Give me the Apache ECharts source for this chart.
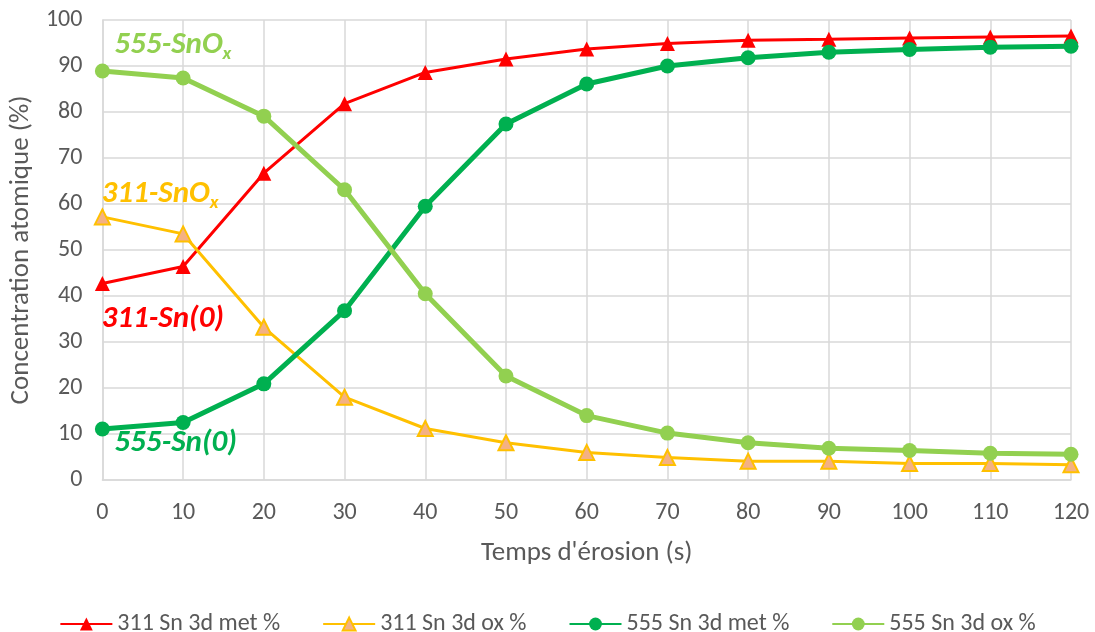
<!DOCTYPE html>
<html><head><meta charset="utf-8">
<script src="https://cdn.jsdelivr.net/npm/echarts@6/dist/echarts.min.js"></script>
<style>html,body{margin:0;padding:0;background:#fff}#c{width:1095px;height:632px}</style>
</head><body><div id="c"></div>
<script>
const times = [0,10,20,30,40,50,60,70,80,90,100,110,120];
const s311met = [42.7,46.4,66.7,81.8,88.6,91.5,93.7,94.9,95.6,95.8,96.1,96.3,96.5];
const s311ox  = [57.2,53.5,33.2,18.0,11.2,8.1,6.0,4.9,4.1,4.1,3.6,3.6,3.3];
const s555met = [11.1,12.5,20.9,36.8,59.5,77.4,86.1,90.0,91.8,93.0,93.6,94.1,94.3];
const s555ox  = [88.9,87.4,79.1,63.1,40.5,22.6,14.0,10.2,8.1,6.9,6.4,5.8,5.6];
const seriesNames = ['311 Sn 3d met %','311 Sn 3d ox %','555 Sn 3d met %','555 Sn 3d ox %'];
const yTicks = [0,10,20,30,40,50,60,70,80,90,100];
const annotations = [
  {text:'555-SnO', sub:'x', x:1.5, y:94.6, color:'#92D050'},
  {text:'311-SnO', sub:'x', x:-0.1, y:62.2, color:'#FFC000'},
  {text:'311-Sn(0)', sub:'', x:-0.1, y:35.0, color:'#FF0000'},
  {text:'555-Sn(0)', sub:'', x:1.5, y:7.9, color:'#00B050'}
];
const FONT = 'Carlito, Lato, "Open Sans", sans-serif';
const pairs = arr => times.map((t,i)=>[t,arr[i]]);
const chart = echarts.init(document.getElementById('c'), null, {renderer:'canvas'});
const grid = {left:101, right:24, top:20, bottom:152};
const opt = {
  animation:false,
  textStyle:{fontFamily:FONT},
  grid: grid,
  xAxis:{type:'value', min:0, max:120, interval:10,
    name:"Temps d'érosion (s)", nameLocation:'middle', nameGap:60,
    nameTextStyle:{color:'#595959', fontSize:27, fontFamily:FONT},
    axisLine:{show:true, lineStyle:{color:'#D9D9D9', width:1.5}},
    axisTick:{show:false},
    axisLabel:{color:'#595959', fontSize:24, margin:21, fontFamily:FONT},
    splitLine:{show:true, lineStyle:{color:'#D9D9D9', width:1.5}}},
  yAxis:{type:'value', min:0, max:100, interval:10,
    name:'Concentration atomique (%)', nameLocation:'middle', nameGap:67,
    nameTextStyle:{color:'#595959', fontSize:27, fontFamily:FONT},
    axisLine:{show:true, lineStyle:{color:'#D9D9D9', width:1.5}},
    axisTick:{show:false},
    axisLabel:{color:'#595959', fontSize:24, margin:20, fontFamily:FONT,
      formatter: v => yTicks.includes(v) ? String(v) : ''},
    splitLine:{show:true, lineStyle:{color:'#D9D9D9', width:1.5}}},
  legend:{top:607, left:'center', itemWidth:52, itemHeight:16, itemGap:42,
    textStyle:{color:'#595959', fontSize:24, fontFamily:FONT},
    data:seriesNames},
  series:[
    {name:seriesNames[0], type:'line', data:pairs(s311met), symbol:'triangle', symbolSize:15,
      lineStyle:{color:'#FF0000', width:3}, itemStyle:{color:'#FF0000'}},
    {name:seriesNames[1], type:'line', data:pairs(s311ox), symbol:'triangle', symbolSize:15,
      lineStyle:{color:'#FFC000', width:3}, itemStyle:{color:'#F4B183', borderColor:'#FFC000', borderWidth:2}},
    {name:seriesNames[2], type:'line', data:pairs(s555met), symbol:'circle', symbolSize:15,
      lineStyle:{color:'#00B050', width:5}, itemStyle:{color:'#00B050'}},
    {name:seriesNames[3], type:'line', data:pairs(s555ox), symbol:'circle', symbolSize:15,
      lineStyle:{color:'#92D050', width:5}, itemStyle:{color:'#92D050'}}
  ]
};
chart.setOption(opt);
const gfx = annotations.map(a => {
  const p = chart.convertToPixel({gridIndex:0}, [a.x, a.y]);
  return {type:'text', x:p[0], y:p[1], z:100,
    style:{text: a.sub ? '{m|'+a.text+'}{s|'+a.sub+'}' : '{m|'+a.text+'}',
      rich:{m:{fontSize:31, fontWeight:'bold', fontStyle:'italic', fill:a.color, fontFamily:FONT},
            s:{fontSize:19, fontWeight:'bold', fontStyle:'italic', fill:a.color, fontFamily:FONT, padding:[18,0,0,0]}},
      verticalAlign:'middle', align:'left'}};
});
chart.setOption({graphic:gfx});
</script></body></html>
